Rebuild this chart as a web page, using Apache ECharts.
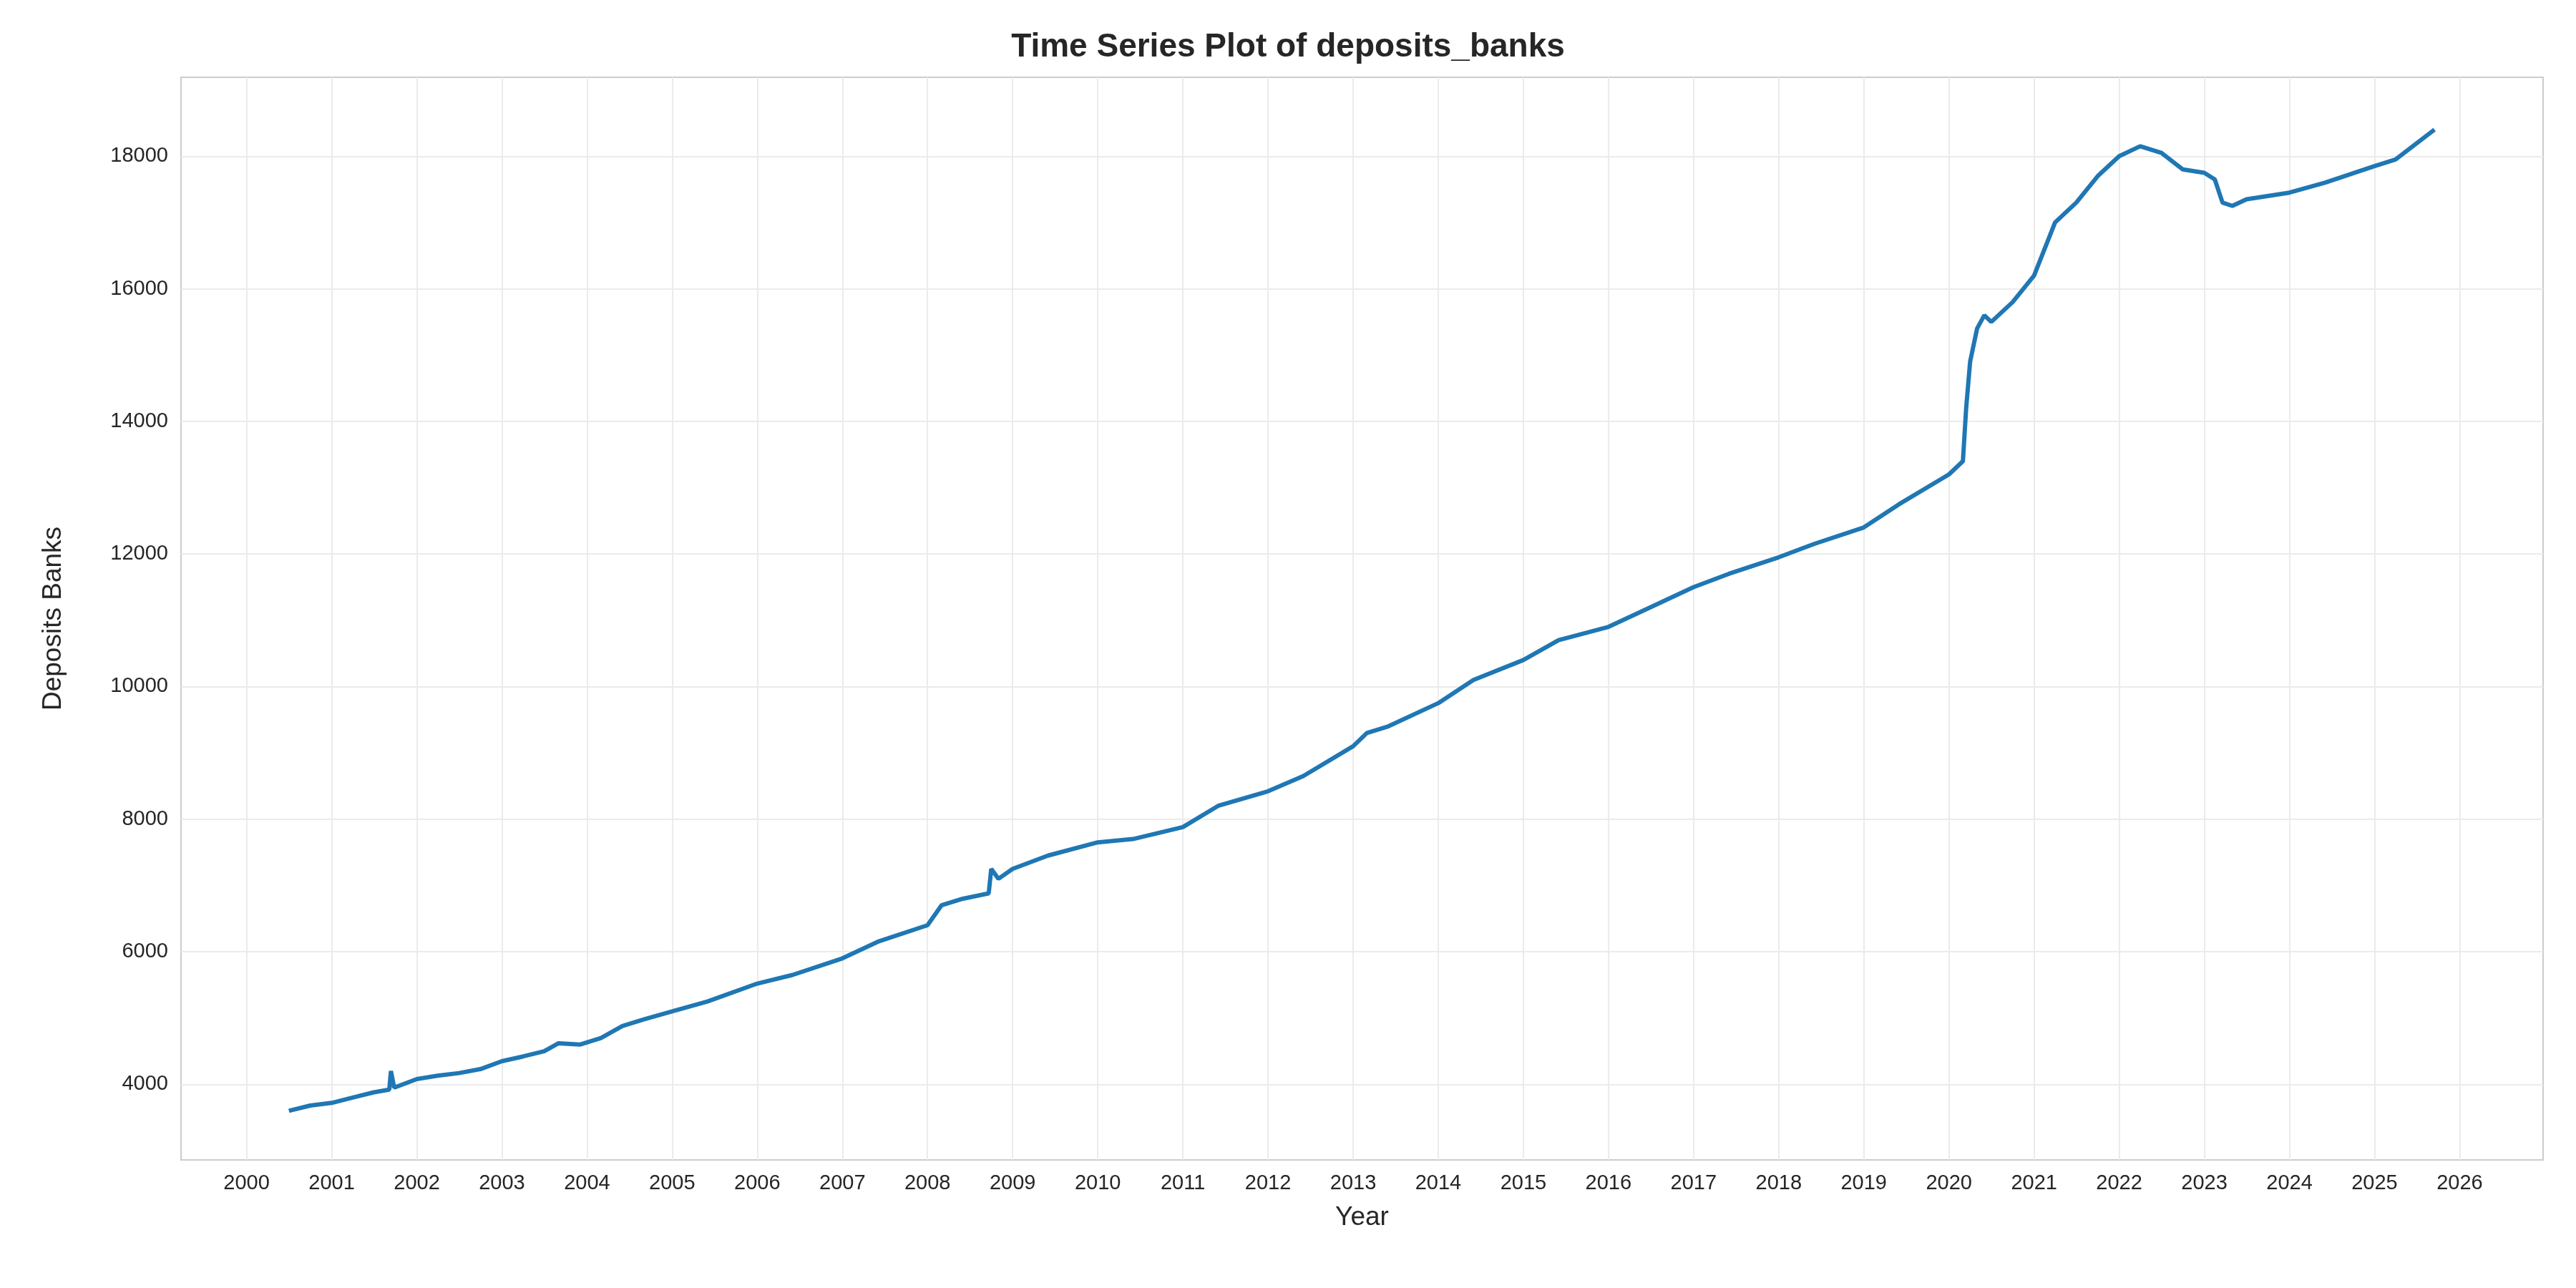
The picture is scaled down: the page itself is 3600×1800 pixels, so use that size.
<!DOCTYPE html>
<html>
<head>
<meta charset="utf-8">
<script src="https://cdn.jsdelivr.net/npm/echarts@6/dist/echarts.min.js"></script>
<style>html,body{margin:0;padding:0;background:#fff}#chart{width:3600px;height:1800px}</style>
</head>
<body>
<div id="chart"></div>
<script>
// values
var dates = ['2000-07-01','2000-10-01','2001-01-01','2001-04-01','2001-07-01','2001-09-05','2001-09-12','2001-09-26',
  '2002-01-01','2002-04-01','2002-07-01','2002-10-01','2003-01-01','2003-04-01','2003-07-01','2003-09-01','2003-12-01',
  '2004-03-01','2004-06-01','2004-09-01','2005-01-01','2005-06-01','2006-01-01','2006-06-01','2007-01-01','2007-06-01',
  '2008-01-01','2008-03-01','2008-06-01','2008-09-20','2008-10-01','2008-11-01','2009-01-01','2009-06-01','2010-01-01',
  '2010-06-01','2011-01-01','2011-06-01','2012-01-01','2012-06-01','2013-01-01','2013-03-01','2013-06-01','2014-01-01',
  '2014-06-01','2015-01-01','2015-06-01','2016-01-01','2016-06-01','2017-01-01','2017-06-01','2018-01-01','2018-06-01',
  '2019-01-01','2019-06-01','2020-01-01','2020-03-01','2020-03-15','2020-04-01','2020-05-01','2020-06-01','2020-07-01',
  '2020-10-01','2021-01-01','2021-04-01','2021-07-01','2021-10-01','2022-01-01','2022-04-01','2022-07-01','2022-10-01',
  '2023-01-01','2023-02-15','2023-03-20','2023-05-01','2023-07-01','2024-01-01','2024-06-01','2025-01-01','2025-04-01',
  '2025-09-15'];
var deposits = [3600,3680,3720,3800,3880,3920,4200,3950,
  4080,4130,4170,4230,4350,4420,4500,4620,4600,
  4700,4880,4980,5100,5250,5520,5650,5900,6150,
  6400,6700,6800,6880,7250,7100,7250,7450,7650,
  7700,7880,8200,8420,8650,9100,9300,9400,9750,
  10100,10400,10700,10900,11150,11500,11700,11950,12150,
  12400,12750,13200,13400,14200,14900,15400,15600,15500,
  15800,16200,17000,17300,17700,18000,18150,18050,17800,
  17750,17650,17300,17250,17350,17450,17600,17850,17950,
  18400];
var yearTicks = [];
for (var y = 2000; y <= 2026; y++) yearTicks.push(y);
var valueTicks = [4000,6000,8000,10000,12000,14000,16000,18000];

function toYear(s) {
  var d = new Date(s + 'T00:00:00Z');
  var y = d.getUTCFullYear();
  var a = Date.UTC(y, 0, 1), b = Date.UTC(y + 1, 0, 1);
  return y + (d.getTime() - a) / (b - a);
}
var points = dates.map(function (d, i) { return [toYear(d), deposits[i]]; });

var font = 'Liberation Sans, Arial, sans-serif';
var chart = echarts.init(document.getElementById('chart'));
chart.setOption({
  animation: false,
  title: {
    text: 'Time Series Plot of deposits_banks', left: 'center', top: 38,
    textStyle: {fontFamily: font, fontSize: 46, fontWeight: 'bold', color: '#262626'}
  },
  grid: {left: 253, right: 46, top: 108, bottom: 179, show: true, borderColor: '#cccccc', borderWidth: 2},
  xAxis: {
    type: 'value', min: 1999.23, max: 2026.98,
    name: 'Year', nameLocation: 'middle', nameGap: 62,
    nameTextStyle: {fontFamily: font, fontSize: 37, color: '#262626'},
    axisLine: {show: false},
    axisTick: {show: false, customValues: yearTicks},
    axisLabel: {customValues: yearTicks, fontFamily: font, fontSize: 29, color: '#262626', margin: 18,
      formatter: function (v) { return String(Math.round(v)); }},
    splitLine: {show: true, lineStyle: {color: '#ebebeb', width: 2}}
  },
  yAxis: {
    type: 'value', min: 2860, max: 19190,
    name: 'Deposits Banks', nameLocation: 'middle', nameGap: 160,
    nameTextStyle: {fontFamily: font, fontSize: 37, color: '#262626'},
    axisLine: {show: false},
    axisTick: {show: false, customValues: valueTicks},
    axisLabel: {customValues: valueTicks, fontFamily: font, fontSize: 29, color: '#262626', margin: 18,
      formatter: function (v) { return String(Math.round(v)); }},
    splitLine: {show: true, lineStyle: {color: '#ebebeb', width: 2}}
  },
  series: [{
    type: 'line', data: points, showSymbol: false,
    lineStyle: {color: '#1f77b4', width: 6}
  }]
});
</script>
</body>
</html>
